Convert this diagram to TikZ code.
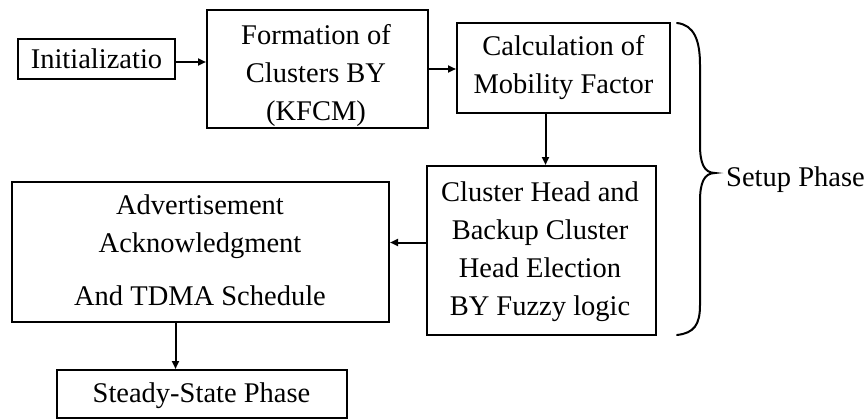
\documentclass[tikz,border=0pt]{standalone}
\usepackage{fontspec}
\setmainfont{Liberation Serif}
\usetikzlibrary{arrows.meta}
\begin{document}
\begin{tikzpicture}[x=1pt,y=-1pt,
  box/.style={draw, line width=2pt, rectangle, inner sep=0pt},
  label/.style={font=\fontsize{28.5}{38}\selectfont, align=center, inner sep=0pt, anchor=base},
  arr/.style={line width=2pt, -{Triangle[length=8pt,width=7pt]}},
  brace/.style={line width=2pt, line cap=round}]
\useasboundingbox (0,0) rectangle (867,420);

% process boxes
\node[box, minimum width=157pt, minimum height=40pt]  (init)   at (96.5,59)   {};
\node[box, minimum width=221pt, minimum height=118pt] (form)   at (317.5,69)  {};
\node[box, minimum width=213pt, minimum height=90pt]  (calc)   at (563.5,68)  {};
\node[box, minimum width=229pt, minimum height=169pt] (chb)    at (541.5,250.5) {};
\node[box, minimum width=377pt, minimum height=140pt] (adv)    at (200.5,252) {};
\node[box, minimum width=290pt, minimum height=48pt]  (steady) at (202,394)   {};

% box texts (placed on the baseline of their last line)
\node[label] (tinit)   at (96.5,69)  {Initializatio};
\node[label] (tform)   at (316,120)  {Formation of\\Clusters BY\\(KFCM)};
\node[label] (tcalc)   at (563.5,93) {Calculation of\\Mobility Factor};
\node[label] (tchb)    at (540,315)  {Cluster Head and\\Backup Cluster\\Head Election\\BY Fuzzy logic};
\node[label] (tadv)    at (200,305)  {Advertisement\\Acknowledgment\\[15pt]And TDMA Schedule};
\node[label] (tsteady) at (201.5,402) {Steady-State Phase};

% arrow start points, offset from the box centres
\coordinate (a1) at ([yshift=-3pt]init.east);
\coordinate (a3) at ([xshift=-18pt]calc.south);
\coordinate (a4) at ([yshift=8pt]chb.west);
\coordinate (a5) at ([xshift=-25pt]adv.south);

% flow arrows
\draw[arr] (a1) -- (form.west |- a1);
\draw[arr] (form.east) -- (calc.west |- form.east);
\draw[arr] (a3) -- (chb.north -| a3);
\draw[arr] (a4) -- (adv.east |- a4);
\draw[arr] (a5) -- (steady.north -| a5);

% curly brace grouping the setup steps
\coordinate (btop) at (677,23);
\coordinate (btip) at (715,173);
\coordinate (bbot) at (677,335);
\draw[brace] (btop) .. controls (694,25) and (700,40) .. (700,65)
  -- (700,145) .. controls (700,163) and (704,173) .. (btip)
  .. controls (704,173) and (700,183) .. (700,201)
  -- (700,305) .. controls (700,325) and (694,333) .. (bbot);
\node[label, anchor=base west] (tsetup) at (726,186) {Setup Phase};
\end{tikzpicture}
\end{document}
